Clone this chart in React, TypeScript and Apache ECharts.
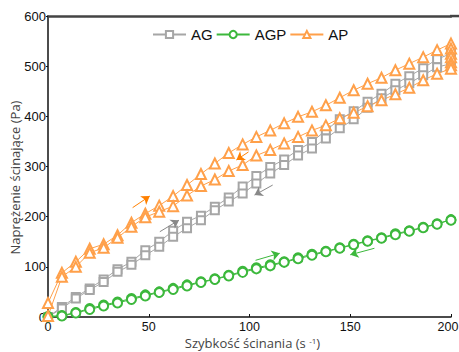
import React, { useEffect, useRef } from "react";
import * as echarts from "echarts";

// Shear rate (s^-1) for each measurement step
const shearRate = [0, 6.9, 13.8, 20.7, 27.6, 34.5, 41.4, 48.3, 55.2, 62.1, 69, 75.9, 82.8, 89.7, 96.6, 103.4, 110.3, 117.2, 124.1, 131, 137.9, 144.8, 151.7, 158.6, 165.5, 172.4, 179.3, 186.2, 193.1, 200];

// AG – ramp up / ramp down (Pa)
const agUp = [0, 20, 40, 57, 75, 95, 110, 133, 150, 172, 190, 202, 220, 238, 260, 281, 299, 314, 333, 349, 372, 394, 410, 429, 445, 465, 480, 496, 514, 525];
const agHold = [520, 514, 509];
const agDown = [0, 17, 37, 54, 70, 90, 104, 123, 140, 160, 177, 193, 213, 230, 246, 266, 286, 303, 322, 336, 356, 376, 394, 417, 436, 452, 466, 482, 498, 505];

// AGP – ramp up / ramp down (Pa)
const agpUp = [1, 3, 9, 17, 24, 30, 37, 44, 50, 57, 64, 70, 76, 83, 91, 98, 104, 110, 118, 125, 131, 138, 145, 152, 158, 166, 172, 179, 186, 194];
const agpDown = [0, 2, 8, 15, 22, 28, 35, 42, 49, 55, 62, 69, 75, 82, 89, 96, 102, 109, 116, 123, 130, 137, 144, 151, 157, 164, 171, 178, 185, 193];

// AP – ramp up / ramp down (Pa)
const apUp = [28, 88, 110, 136, 145, 163, 188, 206, 222, 241, 263, 285, 306, 327, 344, 359, 372, 386, 399, 409, 422, 437, 452, 465, 477, 492, 505, 518, 532, 545];
const apHold = [535, 525, 518, 508, 502];
const apDown = [2, 80, 100, 128, 138, 158, 180, 199, 210, 221, 242, 261, 274, 291, 303, 322, 333, 346, 359, 372, 382, 396, 407, 420, 432, 444, 457, 472, 485, 495];

// Direction arrows [x1, y1, x2, y2]
const apArrows = [[42, 218, 50.5, 241], [99.5, 329, 93.5, 313]];
const agArrows = [[55.5, 170, 65, 193], [111.5, 263, 102.5, 243]];
const agpArrows = [[103, 113, 115, 127], [162, 137, 150, 124]];

function loop(up: number[], hold: number[], down: number[]) {
  const pts: number[][] = [];
  up.forEach((v, i) => pts.push([shearRate[i], v]));
  hold.forEach((v) => pts.push([shearRate[shearRate.length - 1], v]));
  for (let i = down.length - 1; i >= 0; i--) pts.push([shearRate[i], down[i]]);
  return pts;
}

function arrows(list: number[][]) {
  return list.map((a) => [{ coord: [a[0], a[1]] }, { coord: [a[2], a[3]] }]);
}

const GRAY = "#a6a6a6";
const GREEN = "#3cb83c";
const ORANGE = "#ffa04a";

export default function App() {
  const ref = useRef<HTMLDivElement>(null);
  useEffect(() => {
    if (!ref.current) return;
    const chart = echarts.init(ref.current, null, { renderer: "svg" });
    const mk = (color: string, list: number[][]) => ({
      silent: true,
      symbol: ["none", "arrow"],
      symbolSize: [8, 8],
      label: { show: false },
      lineStyle: { color, width: 1, type: "solid" },
      itemStyle: { color },
      data: arrows(list),
    });
    chart.setOption({
      animation: false,
      backgroundColor: "#ffffff",
      textStyle: { fontFamily: "Liberation Sans, Arial, sans-serif" },
      grid: { left: 48, right: 8, top: 16, bottom: 35, containLabel: false, outerBoundsMode: "none" },
      graphic: [
        { type: "rect", shape: { x: 450, y: 14.8, width: 9, height: 2.5 }, style: { fill: "#444" }, silent: true },
      ],
      legend: {
        top: 22,
        left: 147,
        itemWidth: 33,
        itemHeight: 9,
        itemGap: 3,
        textStyle: { fontSize: 15, color: "#111", fontFamily: "Liberation Sans, Arial, sans-serif" },
        data: ["AG", "AGP", "AP"],
      },
      xAxis: [
        {
          type: "value",
          min: 0,
          max: 200,
          interval: 50,
          name: "Szybkość ścinania (s {sup|-1})",
          nameLocation: "middle",
          nameGap: 19,
          nameMoveOverlap: false,
          nameTextStyle: {
            fontSize: 13,
            color: "#444",
            fontFamily: "Open Sans, sans-serif",
            padding: [0, 0, 0, 6],
            rich: { sup: { fontSize: 8, verticalAlign: "top", color: "#444" } },
          },
          axisLine: { lineStyle: { color: "#111", width: 1.5 } },
          axisTick: { show: true, inside: true, length: 3, lineStyle: { color: "#111" } },
          axisLabel: {
            fontSize: 12.5,
            color: "#111",
            margin: 3,
            formatter: (v: number) => (v === 200 ? "{r|" + v + "}" : String(v)),
            rich: { r: { fontSize: 12.5, color: "#111", padding: [0, 6, 0, 0] } },
          },
          splitLine: { show: false },
        },
        {
          type: "value",
          position: "top",
          min: 0,
          max: 200,
          interval: 50,
          axisLine: { show: true, lineStyle: { color: "#444", width: 2.5 } },
          axisTick: { show: false },
          axisLabel: { show: false },
          splitLine: { show: false },
        },
      ],
      yAxis: {
        type: "value",
        min: 0,
        max: 600,
        interval: 100,
        name: "Naprężenie ścinające (Pa)",
        nameLocation: "middle",
        nameGap: 27,
        nameMoveOverlap: false,
        nameTextStyle: { fontSize: 13, color: "#444", fontFamily: "Open Sans, sans-serif", padding: [0, 22, 0, 0] },
        axisLine: { show: true, lineStyle: { color: "#111", width: 1.5 } },
        axisTick: { show: true, inside: false, length: 2, lineStyle: { color: "#111" } },
        axisLabel: { fontSize: 13, color: "#111", margin: 2 },
        splitLine: { show: false },
      },
      series: [
        {
          name: "AG",
          type: "line",
          data: loop(agUp, agHold, agDown),
          symbol: "emptyRect",
          symbolSize: 8,
          lineStyle: { color: GRAY, width: 1 },
          itemStyle: { color: GRAY, borderWidth: 1 },
          markLine: mk("#888", agArrows),
        },
        {
          name: "AGP",
          type: "line",
          data: loop(agpUp, [], agpDown),
          symbol: "emptyCircle",
          symbolSize: 9,
          lineStyle: { color: GREEN, width: 1 },
          itemStyle: { color: GREEN, borderWidth: 1 },
          markLine: mk(GREEN, agpArrows),
        },
        {
          name: "AP",
          type: "line",
          data: loop(apUp, apHold, apDown),
          symbol: "emptyTriangle",
          symbolSize: 10,
          lineStyle: { color: ORANGE, width: 1 },
          itemStyle: { color: ORANGE, borderWidth: 1 },
          markLine: mk("#ff8000", apArrows),
        },
      ],
    });
    return () => chart.dispose();
  }, []);
  return <div ref={ref} style={{ position: "fixed", left: 0, top: 0, width: 459, height: 352 }} />;
}
